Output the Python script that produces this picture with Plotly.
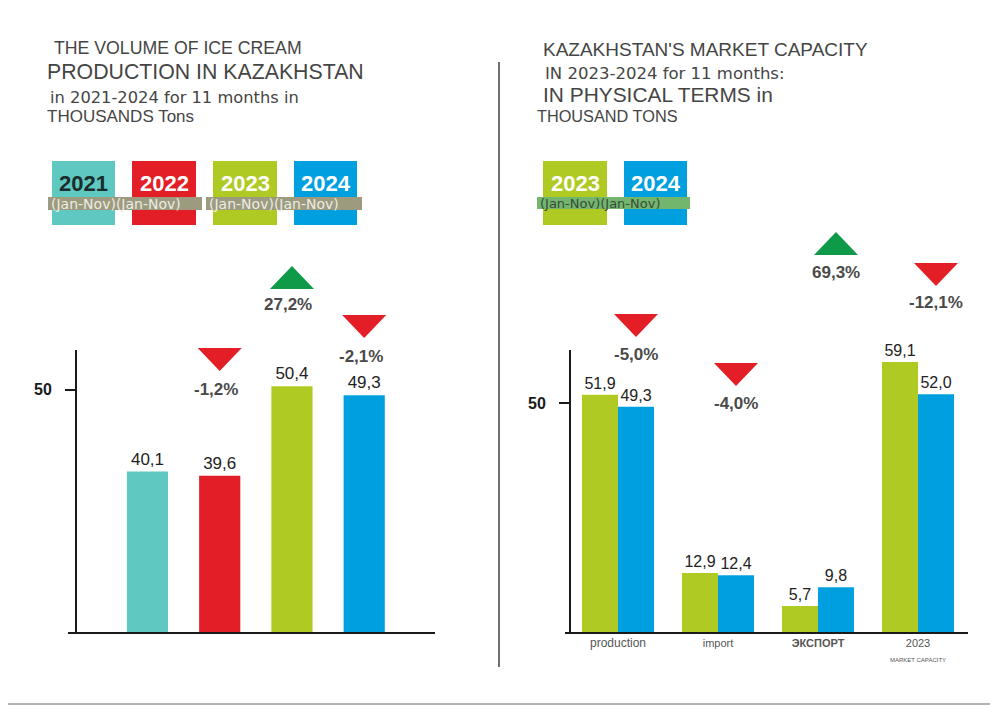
import plotly.graph_objects as go

# The page body adds an 8px margin, so the figure is laid out in window pixels shifted by 8.
OFF = 8
W, H = 998 - OFF, 705 - OFF
def px(x): return (x - OFF) / W
def py(y): return 1 - (y - OFF) / H

# ---------------- data ----------------
prod_years = ["2021", "2022", "2023", "2024"]
prod_values = [40.1, 39.6, 50.4, 49.3]
prod_changes = [None, "-1,2%", "27,2%", "-2,1%"]
prod_dirs = [None, "down", "up", "down"]

market_cats = ["production", "import", "ЭКСПОРТ", "2023 MARKET CAPACITY"]
market_2023 = [51.9, 12.9, 5.7, 59.1]
market_2024 = [49.3, 12.4, 9.8, 52.0]
market_changes = ["-5,0%", "-4,0%", "69,3%", "-12,1%"]
market_dirs = ["down", "down", "up", "down"]

# ---------------- styles ----------------
C_TEAL, C_RED, C_GREEN, C_BLUE = "#5fc9c1", "#e31e26", "#afca22", "#00a0e0"
C_UP = "#0e9a48"
prod_colors = [C_TEAL, C_RED, C_GREEN, C_BLUE]
FONT = "Liberation Sans, Arial, sans-serif"
WIDE = "DejaVu Sans, Verdana, sans-serif"
NARROW = "Liberation Sans Narrow, Arial Narrow, Liberation Sans, sans-serif"

fig = go.Figure()

fig.add_trace(go.Bar(
    x=list(range(len(prod_years))), y=prod_values, width=0.57,
    marker=dict(color=prod_colors, line=dict(width=0)),
    texttemplate="%{y:.1f}", textposition="outside",
    textfont=dict(family=FONT, size=17, color="#222222"),
    cliponaxis=False, xaxis="x", yaxis="y", showlegend=False,
    hovertext=prod_years,
))
fig.add_trace(go.Bar(
    x=list(range(len(market_cats))), y=market_2023, width=0.36, offset=-0.36,
    marker=dict(color=C_GREEN, line=dict(width=0)),
    texttemplate="%{y:.1f}", textposition="outside",
    textfont=dict(family=FONT, size=16, color="#222222"),
    cliponaxis=False, xaxis="x2", yaxis="y2", showlegend=False, name="2023",
))
fig.add_trace(go.Bar(
    x=list(range(len(market_cats))), y=market_2024, width=0.36, offset=0,
    marker=dict(color=C_BLUE, line=dict(width=0)),
    texttemplate="%{y:.1f}", textposition="outside",
    textfont=dict(family=FONT, size=16, color="#222222"),
    cliponaxis=False, xaxis="x2", yaxis="y2", showlegend=False, name="2024",
))

shapes = []
annotations = []

def ann(x, y, text, size, color, family=FONT, xanchor="center", yanchor="middle",
        xref="paper", yref="paper"):
    annotations.append(dict(x=x, y=y, xref=xref, yref=yref, text=text, showarrow=False,
                            xanchor=xanchor, yanchor=yanchor,
                            font=dict(family=family, size=size, color=color)))

def triangle(c, hw, top, direction, xref):
    t, b = py(top), py(top + 23)
    if direction == "down":
        path = f"M {c-hw},{t} L {c+hw},{t} L {c},{b} Z"
        col = C_RED
    else:
        path = f"M {c-hw},{b} L {c+hw},{b} L {c},{t} Z"
        col = C_UP
    shapes.append(dict(type="path", path=path, xref=xref, yref="paper",
                       fillcolor=col, line=dict(width=0)))

# left indicators
left_tri_top = [None, 348, 266, 315]
left_lab_y = [None, 389, 305, 356]
for i, (chg, d) in enumerate(zip(prod_changes, prod_dirs)):
    if chg is None:
        continue
    triangle(i, 0.305, left_tri_top[i], d, "x")
    ann(i - 0.05, py(left_lab_y[i]), f"<b>{chg}</b>", 17, "#4a4a4a", xref="x")

# right indicators
right_tri_top = [314, 363, 232, 263]
right_lab_y = [355, 403, 272, 302]
for i, (chg, d) in enumerate(zip(market_changes, market_dirs)):
    triangle(i + 0.18, 0.22, right_tri_top[i], d, "x2")
    ann(i + 0.18, py(right_lab_y[i]), f"<b>{chg}</b>", 17, "#4a4a4a", xref="x2")

def rect(x0, x1, y0, y1, col):
    shapes.append(dict(type="rect", xref="paper", yref="paper",
                       x0=px(x0), x1=px(x1), y0=py(y1), y1=py(y0),
                       fillcolor=col, line=dict(width=0)))

# legend boxes (left)
left_boxes = [(52, 115), (132, 196), (213, 277), (294, 357)]
year_txt_colors = ["#1c2b2b", "white", "white", "white"]
for (x0, x1), col in zip(left_boxes, prod_colors):
    rect(x0, x1, 161, 225, col)
for x0, x1 in [(48, 202), (206, 362)]:
    rect(x0, x1, 197, 210, "#9c9b7f")
for (x0, x1), yr, tc in zip(left_boxes, prod_years, year_txt_colors):
    ann(px((x0 + x1) / 2), py(184), f"<b>{yr}</b>", 22, tc)
for x0 in [48, 206]:
    ann(px(x0 + 1), py(203.5), "(Jan-Nov)(Jan-Nov)", 14, "#ececE4",
        family=WIDE, xanchor="left")

# legend boxes (right)
right_boxes = [(543, 607), (624, 687)]
for (x0, x1), col in zip(right_boxes, [C_GREEN, C_BLUE]):
    rect(x0, x1, 161, 225, col)
rect(537, 690, 197, 209, "#72b66e")
for (x0, x1), yr in zip(right_boxes, ["2023", "2024"]):
    ann(px((x0 + x1) / 2), py(184), f"<b>{yr}</b>", 22, "white")
ann(px(538), py(203.5), "(Jan-Nov)(Jan-Nov)", 13, "#3a4a3a", family=WIDE, xanchor="left")

# titles
titles = [
    (52, 48, "THE VOLUME OF ICE CREAM", 17.7, FONT),
    (45, 72, "PRODUCTION IN KAZAKHSTAN", 21.3, FONT),
    (48, 97, "in 2021-2024 for 11 months in", 16.3, WIDE),
    (45, 117, "THOUSANDS Tons", 17, NARROW),
    (541, 49, "KAZAKHSTAN'S MARKET CAPACITY", 19, FONT),
    (543, 73, "IN 2023-2024 for 11 months:", 16.5, WIDE),
    (541, 94, "IN PHYSICAL TERMS in", 20.9, FONT),
    (535, 116, "THOUSAND TONS", 16.3, NARROW),
]
for x, y, txt, sz, fam in titles:
    ann(px(x), py(y), txt, sz, "#454545", family=fam, xanchor="left")

# divider and border (right/bottom edges of the page)
shapes.append(dict(type="line", xref="paper", yref="paper",
                   x0=px(499), x1=px(499), y0=py(62), y1=py(667),
                   line=dict(color="#707070", width=2)))
shapes.append(dict(type="line", xref="paper", yref="paper",
                   x0=px(996.5), x1=px(996.5), y0=0, y1=1,
                   line=dict(color="#9a9a9a", width=1.5)))
shapes.append(dict(type="line", xref="paper", yref="paper",
                   x0=0, x1=1, y0=py(704), y1=py(704),
                   line=dict(color="#9a9a9a", width=1.5)))

axis_common = dict(showgrid=False, zeroline=False, showline=True,
                   linecolor="#1a1a1a", linewidth=2)
ytick = dict(tickvals=[50], ticktext=["<b>50</b>"], ticks="outside", ticklen=10,
             tickwidth=2, tickcolor="#1a1a1a", ticklabelstandoff=10,
             tickfont=dict(family=FONT, size=16, color="#1a1a1a"))

fig.update_layout(
    width=W, height=H, margin=dict(l=0, r=0, t=0, b=0),
    paper_bgcolor="white", plot_bgcolor="rgba(0,0,0,0)",
    separators=",.", showlegend=False,
    font=dict(family=FONT),
    xaxis=dict(domain=[px(68), px(435)], range=[-1.10, 3.98], anchor="y",
               showticklabels=False, ticks="", **axis_common),
    yaxis=dict(domain=[py(632), py(350)], range=[20.75, 54.77], anchor="free",
               position=px(76), **ytick, **axis_common),
    xaxis2=dict(domain=[px(565), px(968)], range=[-0.53, 3.5], anchor="y2",
                tickvals=list(range(len(market_cats))),
                ticktext=["<span style='font-size:12px'>production</span>",
                          "import", "<b>ЭКСПОРТ</b>",
                          "2023<br><span style='font-size:6px'>MARKET CAPACITY</span>"],
                ticks="", tickfont=dict(family=FONT, size=11, color="#555555"),
                **axis_common),
    yaxis2=dict(domain=[py(632), py(350)], range=[0, 61.7], anchor="free",
                position=px(570), **ytick, **axis_common),
    shapes=shapes, annotations=annotations,
)

fig.write_html("out.html")
